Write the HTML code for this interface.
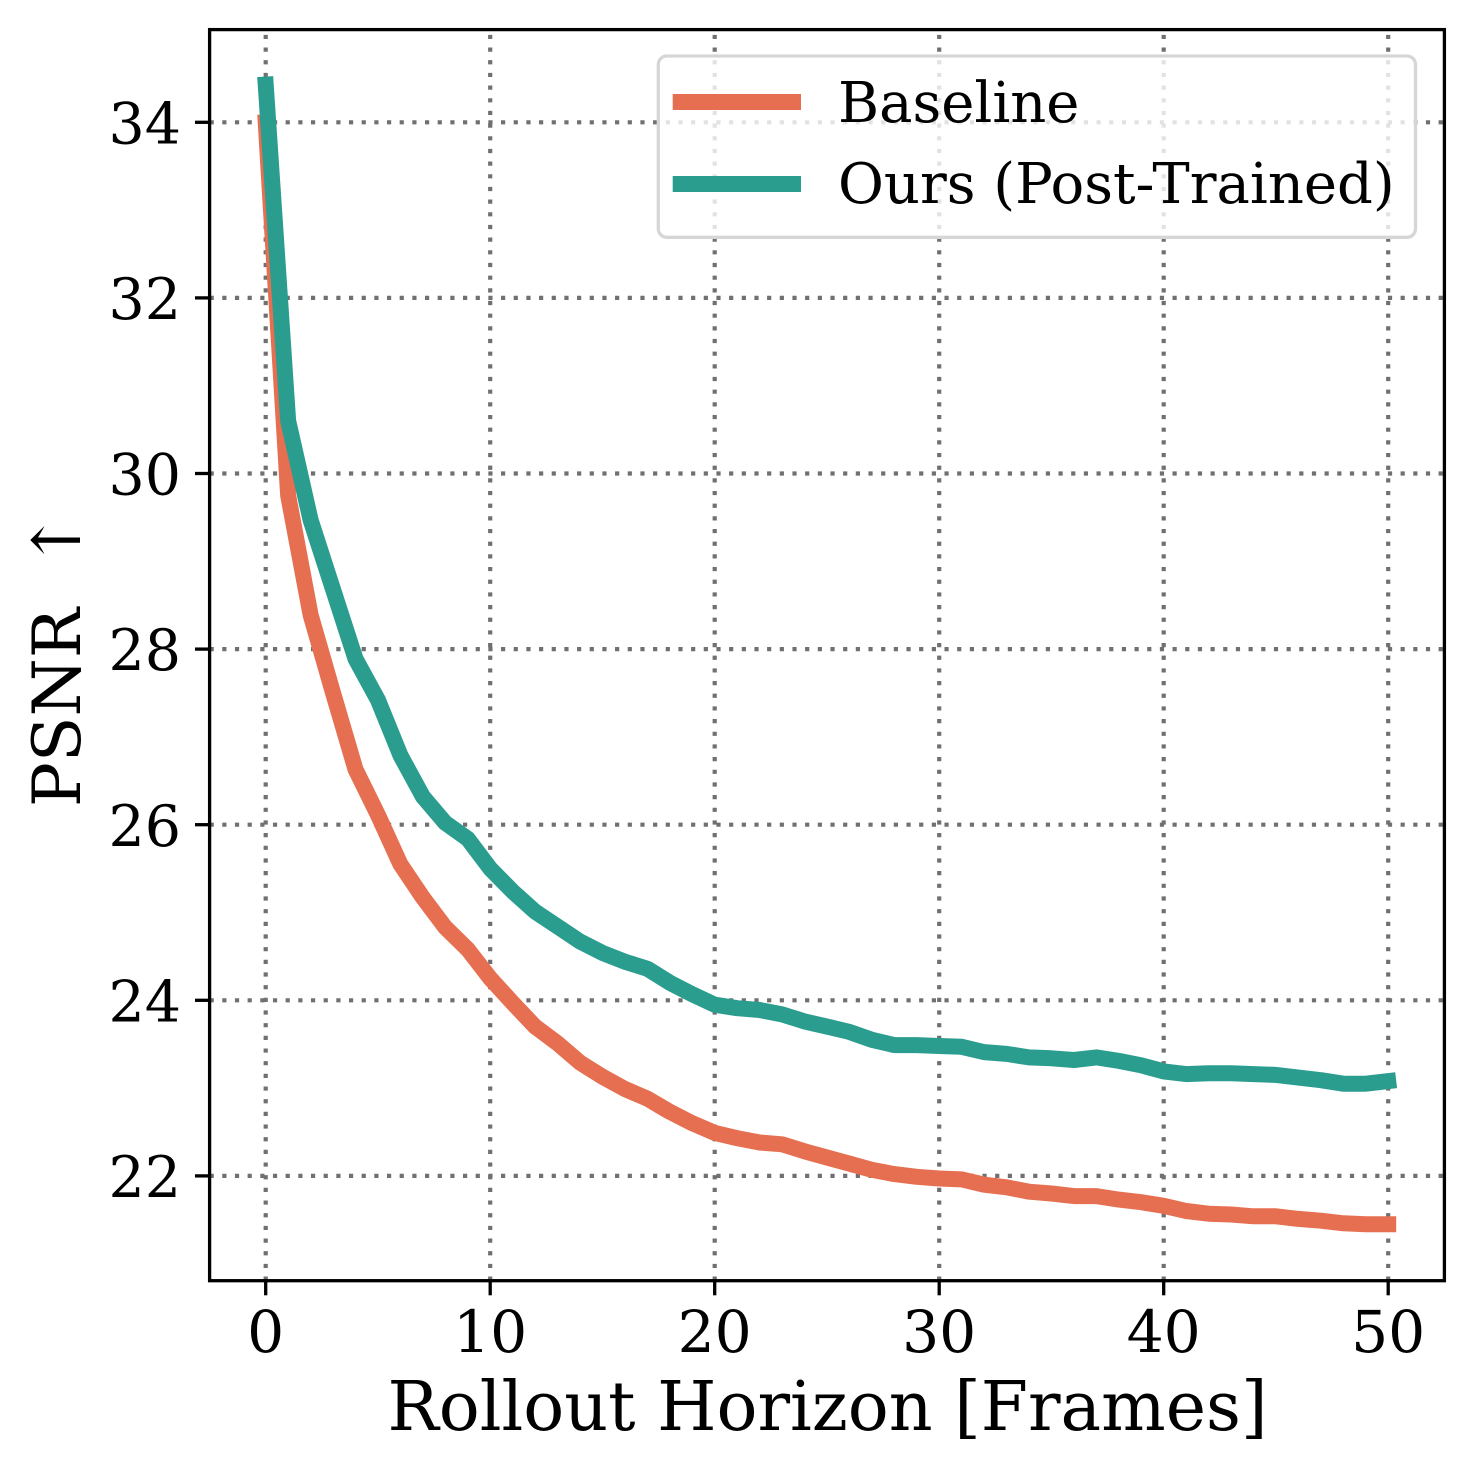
<!DOCTYPE html>
<html>
<head>
<meta charset="utf-8">
<style>
  html, body { margin: 0; padding: 0; background: #ffffff; }
  svg { display: block; }
  text { font-family: "DejaVu Serif", "Liberation Serif", serif; fill: #000; }
</style>
</head>
<body>
<svg width="1474" height="1474" viewBox="0 0 1474 1474" xmlns="http://www.w3.org/2000/svg">
  <rect x="0" y="0" width="1474" height="1474" fill="#ffffff"/>

  <!-- grid -->
  <g stroke="#707070" stroke-width="4.2" stroke-dasharray="4.2 8.47" fill="none">
    <path d="M265.7 1280.7 L265.7 29.6"/>
    <path d="M490.2 1280.7 L490.2 29.6"/>
    <path d="M714.7 1280.7 L714.7 29.6"/>
    <path d="M939.2 1280.7 L939.2 29.6"/>
    <path d="M1163.7 1280.7 L1163.7 29.6"/>
    <path d="M1388.2 1280.7 L1388.2 29.6"/>
    <path d="M209.6 1175.9 L1444.4 1175.9"/>
    <path d="M209.6 1000.3 L1444.4 1000.3"/>
    <path d="M209.6 824.7 L1444.4 824.7"/>
    <path d="M209.6 649.1 L1444.4 649.1"/>
    <path d="M209.6 473.5 L1444.4 473.5"/>
    <path d="M209.6 297.9 L1444.4 297.9"/>
    <path d="M209.6 122.3 L1444.4 122.3"/>
  </g>

  <!-- Baseline -->
  <polyline fill="none" stroke="#e76f51" stroke-width="16" stroke-linecap="square" stroke-linejoin="round"
    points="265.7,122.3 288.15,495.5 310.6,614.9 333.05,693.0 355.5,769.4 377.95,815.0 400.4,864.2 422.85,897.6 445.3,927.4 467.75,949.4 490.2,978.3 512.65,1002.9 535.1,1026.6 557.55,1043.3 580,1062.6 602.45,1076.7 624.9,1089.0 647.35,1098.6 669.8,1111.8 692.25,1123.2 714.7,1132.9 737.15,1138.2 759.6,1142.5 782.05,1144.3 804.5,1151.3 826.95,1157.5 849.4,1163.6 871.85,1169.8 894.3,1174.1 916.75,1176.8 939.2,1178.5 961.65,1179.4 984.1,1184.7 1006.55,1187.3 1029,1191.7 1051.45,1193.5 1073.9,1196.1 1096.35,1196.1 1118.8,1199.6 1141.25,1202.2 1163.7,1205.8 1186.15,1211.0 1208.6,1213.7 1231.05,1214.5 1253.5,1216.3 1275.95,1216.3 1298.4,1218.9 1320.85,1220.7 1343.3,1223.3 1365.75,1224.2 1388.2,1224.2"/>

  <!-- Ours -->
  <polyline fill="none" stroke="#2a9d8f" stroke-width="16" stroke-linecap="square" stroke-linejoin="round"
    points="265.7,84.6 288.15,420.8 310.6,520.0 333.05,589.4 355.5,658.8 377.95,700.0 400.4,755.3 422.85,796.6 445.3,822.9 467.75,838.8 490.2,868.6 512.65,891.4 535.1,911.6 557.55,926.5 580,941.5 602.45,952.9 624.9,961.7 647.35,968.7 669.8,982.7 692.25,994.2 714.7,1004.7 737.15,1008.2 759.6,1010.0 782.05,1014.4 804.5,1021.4 826.95,1026.6 849.4,1031.9 871.85,1039.8 894.3,1045.1 916.75,1045.1 939.2,1046.0 961.65,1046.8 984.1,1052.1 1006.55,1053.9 1029,1057.4 1051.45,1058.3 1073.9,1060.0 1096.35,1057.4 1118.8,1060.9 1141.25,1065.3 1163.7,1071.4 1186.15,1074.1 1208.6,1073.2 1231.05,1073.2 1253.5,1074.1 1275.95,1074.9 1298.4,1077.6 1320.85,1080.2 1343.3,1083.7 1365.75,1083.7 1388.2,1081.1"/>

  <!-- spines -->
  <rect x="209.6" y="29.6" width="1234.8" height="1251.1" fill="none" stroke="#000" stroke-width="3.3"/>

  <!-- ticks -->
  <g stroke="#000" stroke-width="3.3">
    <line x1="265.7" y1="1280.7" x2="265.7" y2="1295.3"/>
    <line x1="490.2" y1="1280.7" x2="490.2" y2="1295.3"/>
    <line x1="714.7" y1="1280.7" x2="714.7" y2="1295.3"/>
    <line x1="939.2" y1="1280.7" x2="939.2" y2="1295.3"/>
    <line x1="1163.7" y1="1280.7" x2="1163.7" y2="1295.3"/>
    <line x1="1388.2" y1="1280.7" x2="1388.2" y2="1295.3"/>
    <line x1="195" y1="1175.9" x2="209.6" y2="1175.9"/>
    <line x1="195" y1="1000.3" x2="209.6" y2="1000.3"/>
    <line x1="195" y1="824.7" x2="209.6" y2="824.7"/>
    <line x1="195" y1="649.1" x2="209.6" y2="649.1"/>
    <line x1="195" y1="473.5" x2="209.6" y2="473.5"/>
    <line x1="195" y1="297.9" x2="209.6" y2="297.9"/>
    <line x1="195" y1="122.3" x2="209.6" y2="122.3"/>
  </g>

  <!-- x tick labels -->
  <g font-size="58.3" text-anchor="middle">
    <text x="265.7" y="1352">0</text>
    <text x="490.2" y="1352">10</text>
    <text x="714.7" y="1352">20</text>
    <text x="939.2" y="1352">30</text>
    <text x="1163.7" y="1352">40</text>
    <text x="1388.2" y="1352">50</text>
  </g>

  <!-- y tick labels -->
  <g font-size="57" text-anchor="end">
    <text x="181" y="1197">22</text>
    <text x="181" y="1021.4">24</text>
    <text x="181" y="845.8">26</text>
    <text x="181" y="670.2">28</text>
    <text x="181" y="494.6">30</text>
    <text x="181" y="319">32</text>
    <text x="181" y="143.4">34</text>
  </g>

  <!-- axis labels -->
  <text x="827.5" y="1430" font-size="68.1" text-anchor="middle">Rollout Horizon [Frames]</text>
  <text transform="translate(80,807) rotate(-90)" font-size="66.7" text-anchor="start">PSNR</text>
  <text transform="translate(80,568) rotate(-90)" font-size="66.7" text-anchor="start">↑</text>

  <!-- legend -->
  <rect x="658.3" y="56" width="757.2" height="181.3" rx="8.5" ry="8.5" fill="#ffffff" fill-opacity="0.8" stroke="#d6d6d6" stroke-width="3.3"/>
  <line x1="672.7" y1="102" x2="801" y2="102" stroke="#e76f51" stroke-width="16"/>
  <line x1="672.7" y1="184" x2="801" y2="184" stroke="#2a9d8f" stroke-width="16"/>
  <text x="838" y="122" font-size="56">Baseline</text>
  <text x="838" y="203" font-size="56">Ours (Post-Trained)</text>
</svg>
</body>
</html>
